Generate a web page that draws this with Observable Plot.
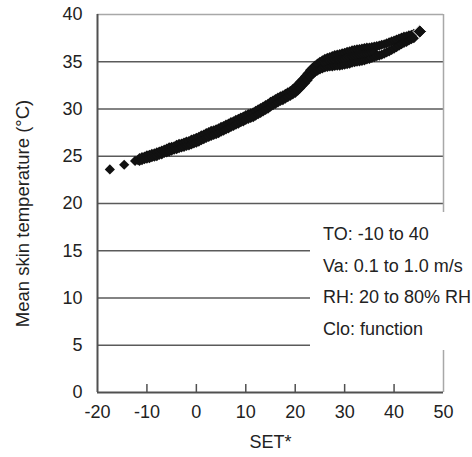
<!DOCTYPE html>
<html>
<head>
<meta charset="utf-8">
<script src="https://cdn.jsdelivr.net/npm/d3@7"></script>
<script src="https://cdn.jsdelivr.net/npm/@observablehq/plot@0.6"></script>
<style>
  html, body { margin: 0; padding: 0; background: #fff; }
  #wrap { position: relative; width: 472px; height: 457px; font-family: "Liberation Sans", Arial, sans-serif; }
  #legend { position: absolute; left: 310px; top: 212px; width: 162px; height: 138px; background: #fff;
    box-sizing: border-box; padding: 7px 0 0 13px; font-size: 18px; line-height: 31.7px; color: #222; white-space: nowrap; }
</style>
</head>
<body>
<div id="wrap"><div id="legend"></div></div>
<script>
const xTicks = [-20, -10, 0, 10, 20, 30, 40, 50];
const yTicks = [0, 5, 10, 15, 20, 25, 30, 35, 40];
const xLabel = "SET*";
const yLabel = "Mean skin temperature (°C)";
const legendLines = ["TO: -10 to 40", "Va: 0.1 to 1.0 m/s", "RH: 20 to 80% RH", "Clo: function"];

// [SET*, mean skin temperature]
const observations = [
  [-17.5,23.6],[-14.6,24.1],[-12.4,24.5],[-11.8,24.6],
  [-11.5,24.8],[-11.5,24.5],[-11,24.9],[-11,24.6],[-10.5,24.95],[-10.5,24.7],
  [-10,25.1],[-10,24.75],[-9.5,25.15],[-9.5,24.8],[-9,25.25],[-9,24.9],
  [-8.5,25.3],[-8.5,24.95],[-8,25.4],[-8,25.0],[-7.5,25.5],[-7.5,25.15],
  [-7,25.6],[-7,25.2],[-6.5,25.7],[-6.5,25.35],[-6,25.8],[-6,25.4],
  [-5.5,25.95],[-5.5,25.5],[-5,26.0],[-5,25.6],[-4.5,26.05],[-4.5,25.7],
  [-4,26.2],[-4,25.75],[-3.5,26.3],[-3.5,25.85],[-3,26.35],[-3,25.95],
  [-2.5,26.45],[-2.5,26.0],[-2,26.55],[-2,26.1],[-1.5,26.6],[-1.5,26.15],
  [-1,26.75],[-1,26.25],[-0.5,26.85],[-0.5,26.35],[0,26.95],[0,26.45],
  [0.5,27.05],[0.5,26.55],[1,27.2],[1,26.7],[1.5,27.3],[1.5,26.8],
  [2,27.45],[2,26.95],[2.5,27.55],[2.5,27.05],[3,27.7],[3,27.15],
  [3.5,27.75],[3.5,27.25],[4,27.85],[4,27.35],[4.5,27.95],[4.5,27.45],
  [5,28.1],[5,27.6],[5.5,28.2],[5.5,27.7],[6,28.35],[6,27.85],
  [6.5,28.45],[6.5,27.95],[7,28.6],[7,28.1],[7.5,28.7],[7.5,28.2],
  [8,28.85],[8,28.35],[8.5,28.95],[8.5,28.45],[9,29.1],[9,28.6],
  [9.5,29.2],[9.5,28.7],[10,29.35],[10,28.85],[10.5,29.45],[10.5,28.95],
  [11,29.55],[11,29.05],[11.5,29.65],[11.5,29.15],[12,29.8],[12,29.3],
  [12.5,29.95],[12.5,29.45],[13,30.1],[13,29.6],[13.5,30.25],[13.5,29.75],
  [14,30.4],[14,29.9],[14.5,30.55],[14.5,30.05],[15,30.75],[15,30.25],
  [15.5,30.9],[15.5,30.4],[16,31.05],[16,30.55],[16.5,31.2],[16.5,30.7],
  [17,31.35],[17,30.85],[17.5,31.45],[17.5,30.95],[18,31.6],[18,31.1],
  [18.5,31.75],[18.5,31.25],[19,31.9],[19,31.4],[19.5,32.1],[19.5,31.55],
  [20,32.3],[20,31.7],[20.5,32.6],[20.5,31.95],[21,32.85],[21,32.2],
  [21.5,33.15],[21.5,32.5],[22,33.45],[22,32.75],[22.5,33.75],[22.5,33.05],
  [23,34.1],[23,33.4],[23.5,34.35],[23.5,33.65],[24,34.6],[24,33.9],
  [24.5,34.8],[24.5,34.05],[25,35.0],[25,34.2],[25.5,35.15],[25.5,34.3],
  [26,35.3],[26,34.4],[26,34.85],[26.5,35.4],[26.5,34.45],[26.5,34.95],
  [27,35.5],[27,34.5],[27,35.05],[27.5,35.6],[27.5,34.5],[27.5,35.1],
  [28,35.7],[28,34.55],[28,35.15],[28.5,35.75],[28.5,34.6],[28.5,35.2],
  [29,35.8],[29,34.6],[29,35.2],[29.5,35.9],[29.5,34.65],[29.5,35.25],
  [30,35.95],[30,34.7],[30,35.3],[30.5,36.05],[30.5,34.75],[30.5,35.4],
  [31,36.1],[31,34.8],[31,35.45],[31.5,36.2],[31.5,34.9],[31.5,35.55],
  [32,36.25],[32,34.95],[32,35.6],[32.5,36.3],[32.5,35.0],[32.5,35.65],
  [33,36.35],[33,35.05],[33,35.7],[33.5,36.4],[33.5,35.1],[33.5,35.75],
  [34,36.45],[34,35.15],[34,35.8],[34.5,36.5],[34.5,35.25],[34.5,35.85],
  [35,36.5],[35,35.3],[35,35.9],[35.5,36.55],[35.5,35.4],[35.5,35.95],
  [36,36.6],[36,35.5],[36,36.0],[36.5,36.65],[36.5,35.6],[37,36.7],[37,35.65],
  [37.5,36.8],[37.5,35.75],[38,36.85],[38,35.85],[38.5,36.95],[38.5,36.0],
  [39,37.05],[39,36.1],[39.5,37.15],[39.5,36.25],[40,37.25],[40,36.4],
  [40.5,37.35],[40.5,36.55],[41,37.45],[41,36.7],[41.5,37.55],[41.5,36.85],
  [42,37.65],[42,37.0],[42.5,37.7],[42.5,37.1],[43,37.8],[43,37.25],
  [43.5,37.85],[43.5,37.4],[44,37.95],[44,37.5]
];
const lastPoint = [[45.2, 38.2]];

const chart = Plot.plot({
  width: 472,
  height: 457,
  marginLeft: 97,
  marginRight: 29,
  marginTop: 14,
  marginBottom: 65,
  style: { fontFamily: "'Liberation Sans', Arial, sans-serif", fontSize: "18px", color: "#222", background: "transparent" },
  x: { domain: [-20, 50], ticks: xTicks },
  y: { domain: [0, 40], ticks: yTicks },
  marks: [
    Plot.ruleY(yTicks.filter(t => t > 0 && t < 40), { stroke: "#5a5a5a", strokeWidth: 1.5 }),
    Plot.ruleY([40], { stroke: "#a8a8a8", strokeWidth: 1.5 }),
    Plot.ruleX([50], { stroke: "#a8a8a8", strokeWidth: 1.5 }),
    Plot.ruleX([-20], { stroke: "#505050", strokeWidth: 2 }),
    Plot.ruleY([0], { stroke: "#505050", strokeWidth: 2 }),
    Plot.ruleX(xTicks.slice(1, -1), { stroke: "#505050", strokeWidth: 1.5, insetTop: 370 }),
    Plot.axisX({ ticks: xTicks, tickSize: 0, tickPadding: 13, label: null, tickFormat: d => String(d) }),
    Plot.axisY({ ticks: yTicks, tickSize: 0, tickPadding: 15, label: null, tickFormat: d => String(d) }),
    Plot.dot(observations, { x: d => d[0], y: d => d[1], symbol: "diamond2", r: 4.6, fill: "#111", stroke: "none" }),
    Plot.dot(lastPoint, { x: d => d[0], y: d => d[1], symbol: "diamond2", r: 6, fill: "#111", stroke: "#fff", strokeWidth: 1 }),
    Plot.text([xLabel], { frameAnchor: "bottom", dy: 55, fill: "#222" }),
    Plot.text([yLabel], { frameAnchor: "left", textAnchor: "middle", rotate: -90, dx: -74, dy: 10, fontSize: 18.5, fill: "#222" })
  ]
});

const wrap = document.getElementById("wrap");
wrap.insertBefore(chart, wrap.firstChild);
const legend = document.getElementById("legend");
for (const line of legendLines) {
  const div = document.createElement("div");
  div.textContent = line;
  legend.appendChild(div);
}
</script>
</body>
</html>
